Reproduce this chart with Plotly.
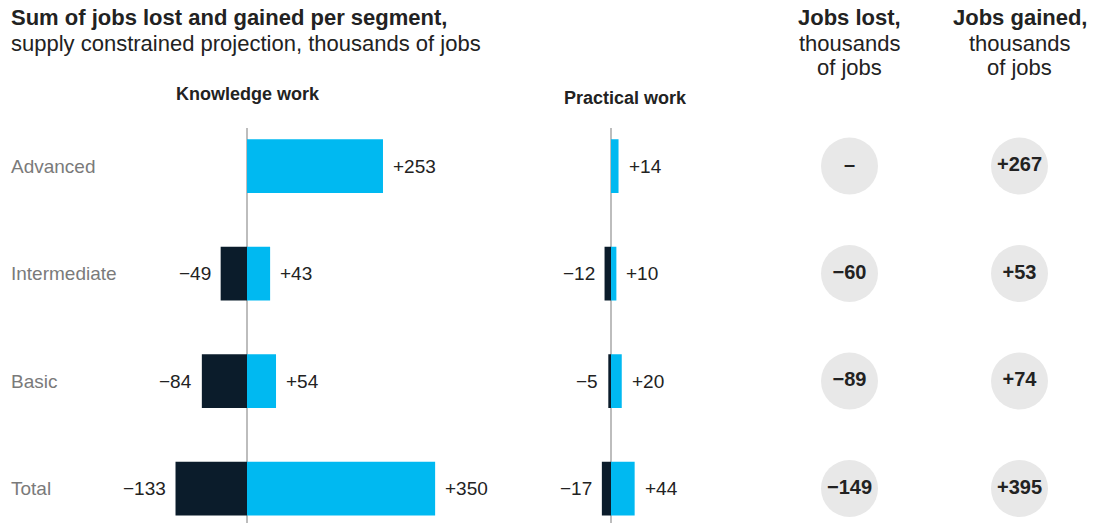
import plotly.graph_objects as go

# ---- data (thousands of jobs) ----
segments = ["Advanced", "Intermediate", "Basic", "Total"]
knowledge_lost = [None, -49, -84, -133]
knowledge_gained = [253, 43, 54, 350]
practical_lost = [None, -12, -5, -17]
practical_gained = [14, 10, 20, 44]
total_lost_labels = ["–", "−60", "−89", "−149"]
total_gained_labels = ["+267", "+53", "+74", "+395"]
summary_columns = ["lost", "gained"]

# ---- styling ----
W, H = 1099, 523
DARK = "#0b1c2b"
CYAN = "#00b9f1"
TEXT = "#222222"
GREY = "#7a7a7a"
FONT = "Liberation Sans, Arial, sans-serif"
SCALE = 0.5375  # pixels per thousand jobs, same for both panels

K_ZERO, K_RANGE = 247, (-230, 440)
P_ZERO, P_RANGE = 611, (-60, 100)


def domain(zero_px, rng):
    return [(zero_px + rng[0] * SCALE) / W, (zero_px + rng[1] * SCALE) / W]


def fmt(v):
    return f"+{v}" if v > 0 else f"\u2212{abs(v)}"


def py(px):
    """pixel row (from top) -> paper y"""
    return 1 - px / H


fig = go.Figure()

for xa, lost, gained in [("x", knowledge_lost, knowledge_gained),
                         ("x2", practical_lost, practical_gained)]:
    fig.add_trace(go.Bar(y=segments, x=lost, orientation="h", width=0.5,
                         marker=dict(color=DARK, line=dict(width=0)),
                         xaxis=xa, yaxis="y", hoverinfo="skip"))
    fig.add_trace(go.Bar(y=segments, x=gained, orientation="h", width=0.5,
                         marker=dict(color=CYAN, line=dict(width=0)),
                         xaxis=xa, yaxis="y", hoverinfo="skip"))

# summary circles
for col, labels in zip(summary_columns, [total_lost_labels, total_gained_labels]):
    fig.add_trace(go.Scatter(
        x=[col] * len(segments), y=segments, mode="markers+text",
        text=[f"<b>{t}</b>" for t in labels], textposition="middle center",
        textfont=dict(family=FONT, size=20, color=TEXT),
        marker=dict(size=57, color="#e8e8e8", line=dict(width=0)),
        xaxis="x3", yaxis="y", hoverinfo="skip", cliponaxis=False))

annotations = []

# value labels next to bars
for xa, series in [("x", knowledge_lost), ("x", knowledge_gained),
                   ("x2", practical_lost), ("x2", practical_gained)]:
    for seg, v in zip(segments, series):
        if v is None:
            continue
        annotations.append(dict(
            x=v, y=seg, xref=xa, yref="y", text=fmt(v), showarrow=False,
            xanchor="left" if v > 0 else "right", xshift=8 if v > 0 else -8,
            font=dict(family=FONT, size=19, color=TEXT)))

# segment labels
for seg in segments:
    annotations.append(dict(
        x=9 / W, y=seg, xref="paper", yref="y", text=seg, showarrow=False,
        xanchor="left", yanchor="middle", font=dict(family=FONT, size=19, color=GREY)))

# title, one line per annotation
for text, ypx in [("<b>Sum of jobs lost and gained per segment,</b>", 17),
                  ("supply constrained projection, thousands of jobs", 43)]:
    annotations.append(dict(
        x=9 / W, y=py(ypx), xref="paper", yref="paper", xanchor="left",
        yanchor="middle", showarrow=False, text=text,
        font=dict(family=FONT, size=22, color=TEXT)))

# panel headers
for text, xpx, ypx in [("<b>Knowledge work</b>", 247.5, 94),
                       ("<b>Practical work</b>", 625.5, 98)]:
    annotations.append(dict(x=xpx / W, y=py(ypx), xref="paper", yref="paper",
                            xanchor="center", yanchor="middle", text=text,
                            showarrow=False, font=dict(family=FONT, size=18, color=TEXT)))

# summary column headers
for col, head in zip(summary_columns, ["<b>Jobs lost,</b>", "<b>Jobs gained,</b>"]):
    for text, ypx in [(head, 17), ("thousands", 43), ("of jobs", 68)]:
        annotations.append(dict(
            x=col, y=py(ypx), xref="x3", yref="paper", xanchor="center",
            yanchor="middle", text=text, showarrow=False,
            font=dict(family=FONT, size=22, color=TEXT)))

# rows are 107.5 px apart, first row centred at y=166 px; axis spans 128..523 px
row0, step, top_px, bot_px = 166, 107.5, 128, 523
y_range = [(bot_px - row0) / step, (top_px - row0) / step]

hidden = dict(showgrid=False, showticklabels=False, ticks="", showline=False)
fig.update_layout(
    width=W, height=H, margin=dict(l=0, r=0, t=0, b=0),
    paper_bgcolor="white", plot_bgcolor="rgba(0,0,0,0)",
    barmode="overlay", showlegend=False, annotations=annotations,
    xaxis=dict(domain=domain(K_ZERO, K_RANGE), range=list(K_RANGE),
               zeroline=True, zerolinecolor="#bdbdbd", zerolinewidth=1.5, **hidden),
    xaxis2=dict(domain=domain(P_ZERO, P_RANGE), range=list(P_RANGE), anchor="y",
                zeroline=True, zerolinecolor="#bdbdbd", zerolinewidth=1.5, **hidden),
    xaxis3=dict(domain=[780 / W, 1.0], type="category", categoryarray=summary_columns,
                range=[(780 - 849.5) / 170, (1099 - 849.5) / 170], anchor="y",
                zeroline=False, **hidden),
    yaxis=dict(domain=[0, 1 - top_px / H], type="category", categoryarray=segments,
               range=y_range, zeroline=False, **hidden),
)

fig.write_html("out.html")
